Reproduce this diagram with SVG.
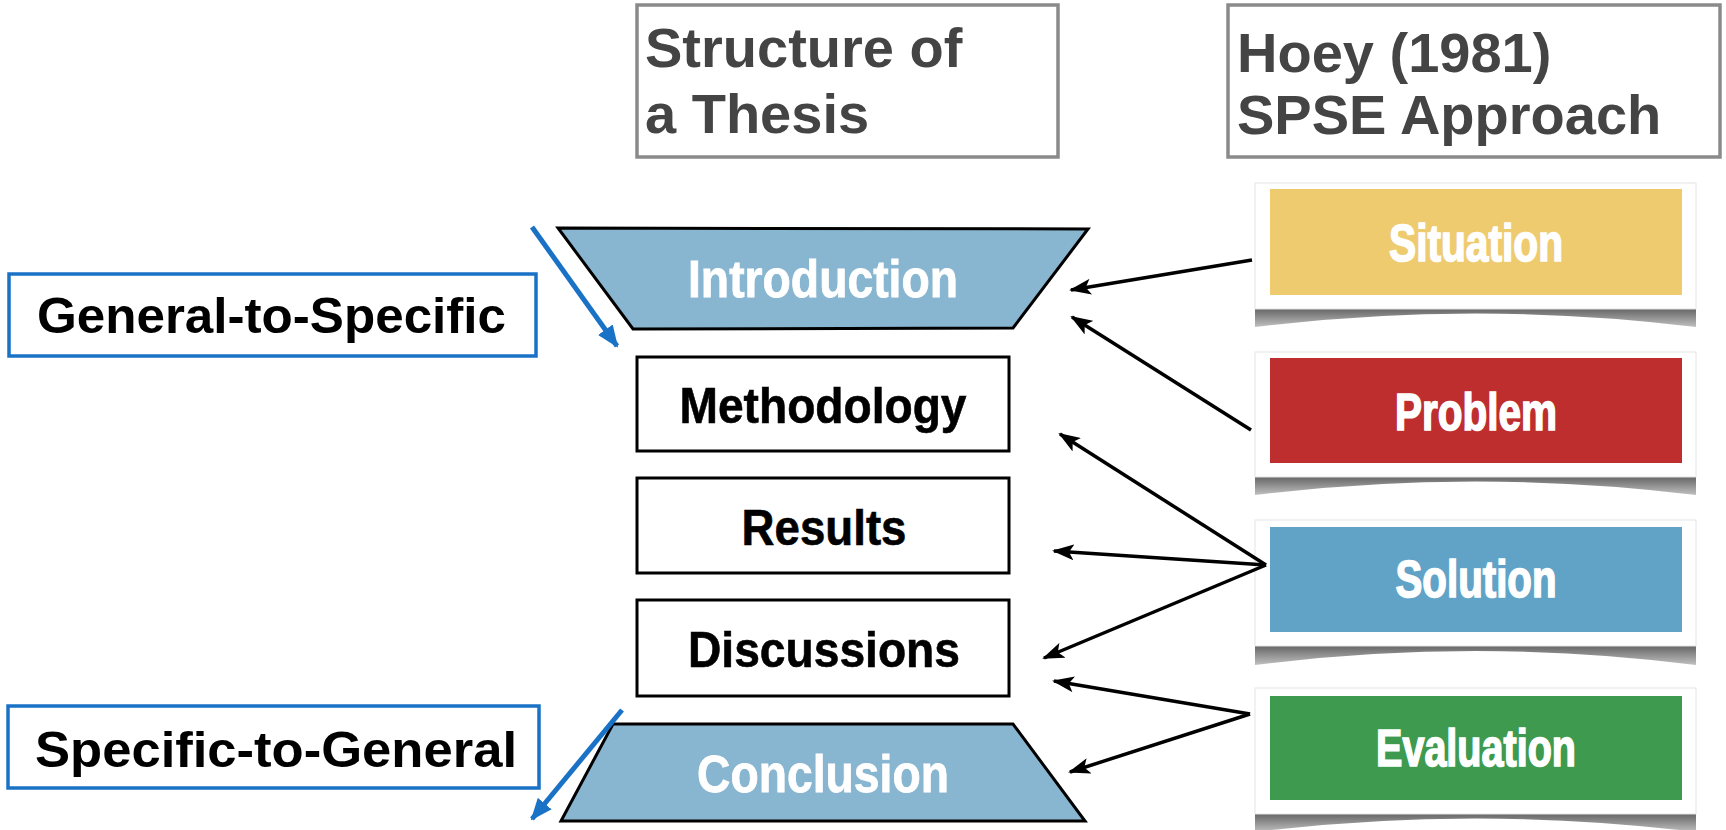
<svg xmlns="http://www.w3.org/2000/svg" width="1726" height="830" viewBox="0 0 1726 830">
  <defs>
    <marker id="ah" viewBox="0 0 22 16" refX="20" refY="8" markerWidth="22" markerHeight="16" markerUnits="userSpaceOnUse" orient="auto">
      <path d="M0,0 L22,8 L0,16 L5,8 Z" fill="#000"/>
    </marker>
    <marker id="ahb" viewBox="0 0 22 18" refX="20" refY="9" markerWidth="22" markerHeight="18" markerUnits="userSpaceOnUse" orient="auto">
      <path d="M0,0 L22,9 L0,18 Z" fill="#1a72c6"/>
    </marker>
    <linearGradient id="shadow" x1="0" y1="0" x2="0" y2="1">
      <stop offset="0" stop-color="#666"/>
      <stop offset="1" stop-color="#c0c0c0"/>
    </linearGradient>
    <style>
      .title { font-family: "Liberation Sans", Arial, sans-serif; font-weight: 700; font-size: 56px; fill: #444; }
      .tbox { fill: #fff; stroke: #8a8a8a; stroke-width: 3.5; }
      .label { font-family: "Liberation Sans", Arial, sans-serif; font-weight: 700; font-size: 50px; fill: #000; }
      .lbox { fill: #fff; stroke: #1a72c6; stroke-width: 3.5; }
      .trap { fill: #88b5cf; stroke: #000; stroke-width: 3; stroke-linejoin: miter; }
      .trapText { font-family: "Liberation Sans", Arial, sans-serif; font-weight: 700; font-size: 51px; fill: #fff; stroke: #fff; stroke-width: 0.8; text-anchor: middle; }
      .sbox { fill: #fff; stroke: #000; stroke-width: 3; }
      .sText { font-family: "Liberation Sans", Arial, sans-serif; font-weight: 700; font-size: 50px; fill: #000; stroke: #000; stroke-width: 0.6; text-anchor: middle; }
      .card { fill: #fff; stroke: #e4e4e4; stroke-width: 1; }
      .cText { font-family: "Liberation Sans", Arial, sans-serif; font-weight: 700; font-size: 51px; fill: #fff; stroke: #fff; stroke-width: 1.6; text-anchor: middle; }
      .conn { fill: none; stroke: #000; stroke-width: 3.5; }
      .blue { fill: none; stroke: #1a72c6; stroke-width: 5; }
    </style>
  </defs>

  <rect width="1726" height="830" fill="#fff"/>

  <g id="title-structure">
    <rect class="tbox" x="637" y="5" width="421" height="152"/>
    <text class="title" x="645" y="67">Structure of</text>
    <text class="title" x="645" y="133">a Thesis</text>
  </g>

  <g id="title-hoey">
    <rect class="tbox" x="1228" y="5" width="492" height="152"/>
    <text class="title" x="1237" y="72" font-size="56">Hoey (1981)</text>
    <text class="title" x="1237" y="134" font-size="56">SPSE Approach</text>
  </g>

  <g id="label-general-to-specific">
    <rect class="lbox" x="9" y="274" width="527" height="82"/>
    <text class="label" x="37" y="333" textLength="469" lengthAdjust="spacingAndGlyphs">General-to-Specific</text>
  </g>

  <g id="label-specific-to-general">
    <rect class="lbox" x="8" y="706" width="531" height="82"/>
    <text class="label" x="35" y="767" textLength="482" lengthAdjust="spacingAndGlyphs">Specific-to-General</text>
  </g>

  <g id="introduction">
    <path class="trap" d="M558,228 L1088,229 L1013,328 L633,329 Z"/>
    <text class="trapText" x="823" y="297" textLength="270" lengthAdjust="spacingAndGlyphs">Introduction</text>
  </g>

  <g id="methodology">
    <rect class="sbox" x="637" y="357" width="372" height="94"/>
    <text class="sText" x="823" y="423" textLength="287" lengthAdjust="spacingAndGlyphs">Methodology</text>
  </g>

  <g id="results">
    <rect class="sbox" x="637" y="478" width="372" height="95"/>
    <text class="sText" x="824" y="545" textLength="165" lengthAdjust="spacingAndGlyphs">Results</text>
  </g>

  <g id="discussions">
    <rect class="sbox" x="637" y="600" width="372" height="96"/>
    <text class="sText" x="824" y="667" textLength="272" lengthAdjust="spacingAndGlyphs">Discussions</text>
  </g>

  <g id="conclusion">
    <path class="trap" d="M613,724 L1013,724 L1085,821 L561,821 Z"/>
    <text class="trapText" x="823" y="792" textLength="252" lengthAdjust="spacingAndGlyphs">Conclusion</text>
  </g>

  <g id="situation">
    <path d="M1255,309 L1696,309 L1696,327 Q1476,300 1255,327 Z" fill="url(#shadow)"/>
    <rect class="card" x="1255" y="183" width="441" height="126"/>
    <rect x="1270" y="189" width="412" height="106" fill="#efcb70"/>
    <text class="cText" x="1476" y="261" textLength="174" lengthAdjust="spacingAndGlyphs">Situation</text>
  </g>

  <g id="problem">
    <path d="M1255,477 L1696,477 L1696,495 Q1476,468 1255,495 Z" fill="url(#shadow)"/>
    <rect class="card" x="1255" y="352" width="441" height="125"/>
    <rect x="1270" y="358" width="412" height="105" fill="#be2e2f"/>
    <text class="cText" x="1476" y="430" textLength="162" lengthAdjust="spacingAndGlyphs">Problem</text>
  </g>

  <g id="solution">
    <path d="M1255,646 L1696,646 L1696,665 Q1476,637 1255,665 Z" fill="url(#shadow)"/>
    <rect class="card" x="1255" y="520" width="441" height="126"/>
    <rect x="1270" y="527" width="412" height="105" fill="#61a3c7"/>
    <text class="cText" x="1476" y="597" textLength="161" lengthAdjust="spacingAndGlyphs">Solution</text>
  </g>

  <g id="evaluation">
    <path d="M1255,814 L1696,814 L1696,832 Q1476,805 1255,832 Z" fill="url(#shadow)"/>
    <rect class="card" x="1255" y="688" width="441" height="126"/>
    <rect x="1270" y="696" width="412" height="104" fill="#3d9a4e"/>
    <text class="cText" x="1476" y="766" textLength="200" lengthAdjust="spacingAndGlyphs">Evaluation</text>
  </g>

  <g id="connectors">
    <path class="blue" d="M532,227 L617,346" marker-end="url(#ahb)"/>
    <path class="blue" d="M622,710 L532,819" marker-end="url(#ahb)"/>
    <path class="conn" d="M1252,260 L1071,290" marker-end="url(#ah)"/>
    <path class="conn" d="M1251,430 L1072,317" marker-end="url(#ah)"/>
    <path class="conn" d="M1266,565 L1060,434" marker-end="url(#ah)"/>
    <path class="conn" d="M1266,565 L1054,551" marker-end="url(#ah)"/>
    <path class="conn" d="M1266,565 L1044,658" marker-end="url(#ah)"/>
    <path class="conn" d="M1250,714 L1054,681" marker-end="url(#ah)"/>
    <path class="conn" d="M1250,714 L1070,772" marker-end="url(#ah)"/>
  </g>
</svg>
